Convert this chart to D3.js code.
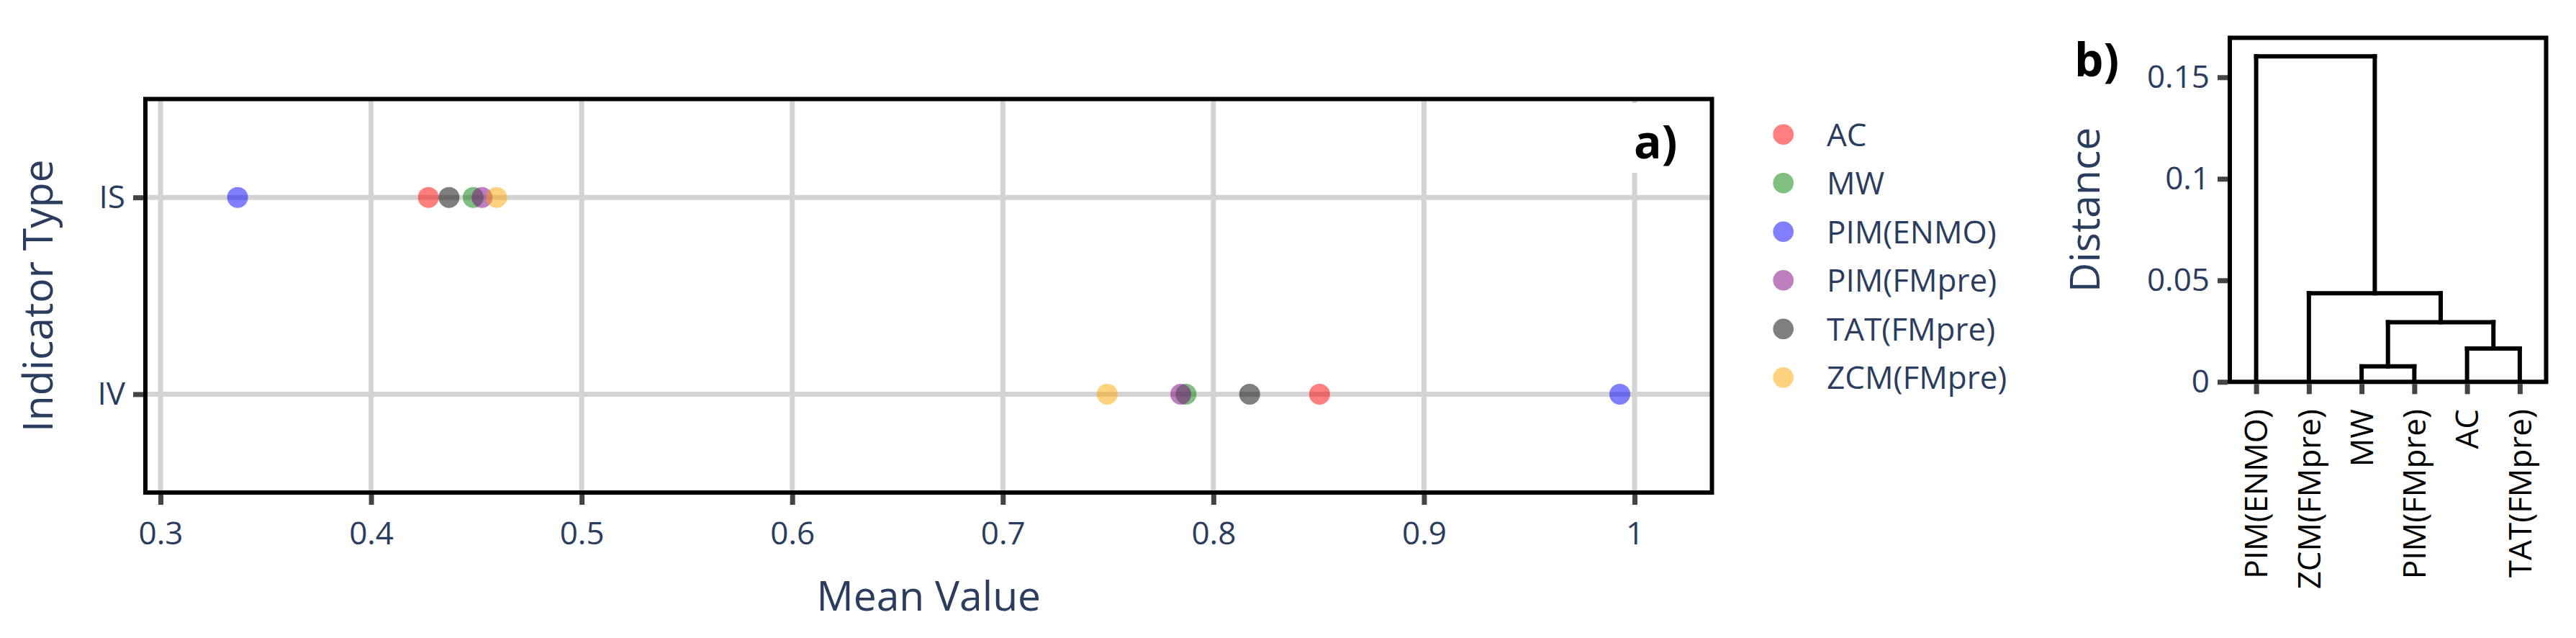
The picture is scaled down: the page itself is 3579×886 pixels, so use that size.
<!DOCTYPE html>
<html><head><meta charset="utf-8">
<script src="https://cdn.jsdelivr.net/npm/d3@7"></script>
<style>body{margin:0;background:#fff}</style>
</head><body>
<svg id="c" width="3579" height="886"></svg>
<script>
// ---- data ----
const indicatorTypes = ["IS", "IV"];
const methods = ["AC", "MW", "PIM(ENMO)", "PIM(FMpre)", "TAT(FMpre)", "ZCM(FMpre)"];
const methodColors = ["red", "green", "blue", "purple", "black", "orange"];
const valuesIS = [0.4272, 0.4485, 0.3366, 0.4527, 0.4370, 0.4596];
const valuesIV = [0.8504, 0.7870, 0.9930, 0.7845, 0.8172, 0.7496];
const xTicks = [0.3, 0.4, 0.5, 0.6, 0.7, 0.8, 0.9, 1.0];
const leaves = ["PIM(ENMO)", "ZCM(FMpre)", "MW", "PIM(FMpre)", "AC", "TAT(FMpre)"];
// merges: [left, right, height]; negative = leaf -(index+1), positive = earlier merge number (1-based)
const merges = [[-3, -4, 0.0076], [-5, -6, 0.0164], [1, 2, 0.0294], [-2, 3, 0.0436], [-1, 4, 0.1603]];
const distTicks = [0, 0.05, 0.1, 0.15];

const FONT = "Open Sans";
const NAVY = "#2b3d5e";
const svg = d3.select("#c");

// ---- panel a ----
const A = {l: 202, r: 2378.5, t: 137.5, b: 684};
const x = d3.scaleLinear().domain([0.3, 1.0]).range([223, 2271]);
const y = d3.scalePoint().domain(indicatorTypes).range([A.t, A.b]).padding(0.5);

const ga = svg.append("g");
// gridlines
ga.selectAll("line.gx").data(xTicks).join("line")
  .attr("x1", d => x(d)).attr("x2", d => x(d)).attr("y1", A.t).attr("y2", A.b)
  .attr("stroke", "#d3d3d3").attr("stroke-width", 7);
ga.selectAll("line.gy").data(indicatorTypes).join("line")
  .attr("x1", A.l).attr("x2", A.r).attr("y1", d => y(d)).attr("y2", d => y(d))
  .attr("stroke", "#d3d3d3").attr("stroke-width", 7);

// label a) with white background
ga.append("rect").attr("x", 2256).attr("y", 143).attr("width", 90).attr("height", 97).attr("fill", "#fff");
ga.append("text").attr("x", 2270).attr("y", 220).text("a)")
  .attr("font-family", FONT).attr("font-weight", "bold").attr("font-size", 64).attr("fill", "#000");

// points
const pts = [];
indicatorTypes.forEach((t, ti) => {
  const vals = ti === 0 ? valuesIS : valuesIV;
  methods.forEach((m, mi) => pts.push({t, m, v: vals[mi], c: methodColors[mi]}));
});
ga.selectAll("circle.pt").data(pts).join("circle")
  .attr("cx", d => x(d.v)).attr("cy", d => y(d.t)).attr("r", 14.5)
  .attr("fill", d => d.c).attr("fill-opacity", 0.5);

// border
ga.append("rect").attr("x", A.l).attr("y", A.t).attr("width", A.r - A.l).attr("height", A.b - A.t)
  .attr("fill", "none").attr("stroke", "#000").attr("stroke-width", 6);

// x axis
const xAxis = ga.append("g").attr("transform", `translate(0,${A.b + 3})`)
  .call(d3.axisBottom(x).tickValues(xTicks).tickFormat(d3.format("~g")).tickSize(14).tickPadding(24));
xAxis.select(".domain").remove();
xAxis.selectAll(".tick line").attr("stroke", "#444").attr("stroke-width", 7);
xAxis.selectAll(".tick text").attr("font-family", FONT).attr("font-size", 44).attr("fill", NAVY);

// y axis
const yAxis = ga.append("g").attr("transform", `translate(${A.l - 3},0)`)
  .call(d3.axisLeft(y).tickSize(14).tickPadding(11));
yAxis.select(".domain").remove();
yAxis.selectAll(".tick line").attr("stroke", "#444").attr("stroke-width", 7);
yAxis.selectAll(".tick text").attr("font-family", FONT).attr("font-size", 44).attr("fill", NAVY);

// titles
ga.append("text").attr("x", (A.l + A.r) / 2).attr("y", 848).attr("text-anchor", "middle")
  .attr("font-family", FONT).attr("font-size", 57).attr("fill", NAVY).text("Mean Value");
ga.append("text").attr("transform", `translate(73,${(A.t + A.b) / 2}) rotate(-90)`).attr("text-anchor", "middle")
  .attr("font-family", FONT).attr("font-size", 57).attr("fill", NAVY).text("Indicator Type");

// legend
const lg = svg.append("g");
const legY = d3.scalePoint().domain(methods).range([186.7, 524.3]);
lg.selectAll("circle").data(methods).join("circle")
  .attr("cx", 2477.7).attr("cy", d => legY(d)).attr("r", 14.3)
  .attr("fill", (d, i) => methodColors[i]).attr("fill-opacity", 0.5);
lg.selectAll("text").data(methods).join("text")
  .attr("x", 2538).attr("y", d => legY(d)).attr("dy", "0.36em")
  .attr("font-family", FONT).attr("font-size", 44).attr("fill", NAVY).text(d => d);

// ---- panel b: dendrogram ----
const B = {l: 3098, r: 3537.5, t: 52.5, b: 530.3};
const bx = d3.scalePoint().domain(leaves).range([B.l, B.r]).padding(0.5);
const by = d3.scaleLinear().domain([0, 0.15]).range([B.b, 107.3]);
const gb = svg.append("g");

// compute node positions
const nodes = [];
function pos(ref) {
  if (ref < 0) return {x: bx(leaves[-ref - 1]), h: 0};
  return nodes[ref - 1];
}
const segs = [];
merges.forEach(([a, b, h]) => {
  const pa = pos(a), pb = pos(b);
  segs.push([pa.x, pa.h, pa.x, h]);
  segs.push([pb.x, pb.h, pb.x, h]);
  segs.push([pa.x, h, pb.x, h]);
  nodes.push({x: (pa.x + pb.x) / 2, h});
});
gb.selectAll("line.seg").data(segs).join("line")
  .attr("x1", d => d[0]).attr("y1", d => by(d[1])).attr("x2", d => d[2]).attr("y2", d => by(d[3]))
  .attr("stroke", "#000").attr("stroke-width", 6).attr("stroke-linecap", "square");

gb.append("rect").attr("x", B.l).attr("y", B.t).attr("width", B.r - B.l).attr("height", B.b - B.t)
  .attr("fill", "none").attr("stroke", "#000").attr("stroke-width", 6);

const byAxis = gb.append("g").attr("transform", `translate(${B.l - 3},0)`)
  .call(d3.axisLeft(by).tickValues(distTicks).tickFormat(d3.format("~g")).tickSize(14).tickPadding(11));
byAxis.select(".domain").remove();
byAxis.selectAll(".tick line").attr("stroke", "#444").attr("stroke-width", 7);
byAxis.selectAll(".tick text").attr("font-family", FONT).attr("font-size", 44).attr("fill", NAVY);

const bxAxis = gb.append("g").attr("transform", `translate(0,${B.b + 3})`)
  .call(d3.axisBottom(bx).tickSize(14).tickFormat(""));
bxAxis.select(".domain").remove();
bxAxis.selectAll(".tick line").attr("stroke", "#444").attr("stroke-width", 7);

gb.selectAll("text.leaf").data(leaves).join("text").attr("class", "leaf")
  .attr("transform", d => `translate(${bx(d)},568) rotate(-90)`)
  .attr("text-anchor", "end").attr("dy", "0.36em")
  .attr("font-family", FONT).attr("font-size", 44).attr("fill", "#000").text(d => d);

gb.append("text").attr("transform", `translate(2917,${(B.t + B.b) / 2}) rotate(-90)`).attr("text-anchor", "middle")
  .attr("font-family", FONT).attr("font-size", 57).attr("fill", NAVY).text("Distance");
gb.append("text").attr("x", 2882).attr("y", 106).text("b)")
  .attr("font-family", FONT).attr("font-weight", "bold").attr("font-size", 64).attr("fill", "#000");
</script>
</body></html>
